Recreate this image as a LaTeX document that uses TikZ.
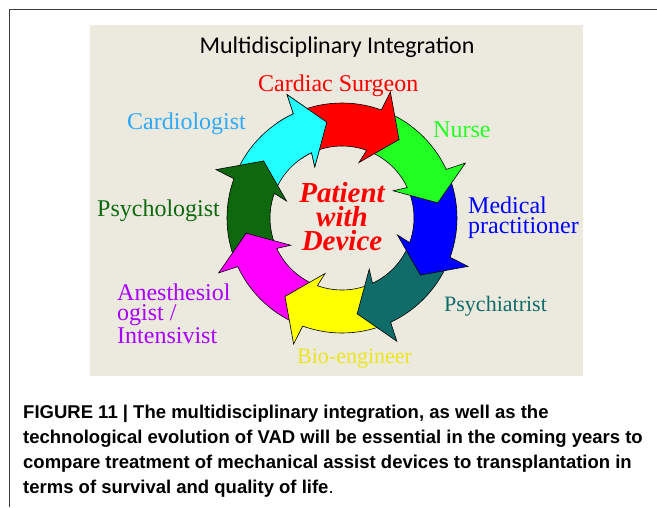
\documentclass[tikz,border=0pt]{standalone}
\usepackage{fontspec}
\setmainfont{Liberation Serif}
\newfontfamily\titlefont{Carlito}
\newfontfamily\capfont{Liberation Sans}
\usetikzlibrary{positioning}

\definecolor{paper}{RGB}{236,233,223}
\definecolor{framegray}{RGB}{60,60,60}
\definecolor{ringred}{RGB}{255,0,0}
\definecolor{ringgreen}{RGB}{34,255,34}
\definecolor{ringblue}{RGB}{0,0,255}
\definecolor{ringteal}{RGB}{16,108,104}
\definecolor{ringyellow}{RGB}{255,255,0}
\definecolor{ringmagenta}{RGB}{255,0,255}
\definecolor{ringdkgreen}{RGB}{14,105,14}
\definecolor{ringcyan}{RGB}{34,255,255}
\definecolor{txtcyan}{RGB}{45,170,250}
\definecolor{txtyellow}{RGB}{235,230,30}
\definecolor{txtpurple}{RGB}{170,0,255}

\tikzset{
  ringarrow/.style={fill=#1, draw=black, line width=0.6pt, line join=miter},
  role/.style={font=\fontsize{24}{20}\selectfont, inner sep=0pt, text=#1},
}

% one ring segment: #1 = angle of the barbs, #2 = fill colour
\newcommand{\ringseg}[2]{%
\path[ringarrow=#2] ({#1+45}:\Ro) arc[start angle=#1+45, end angle=#1, radius=\Ro]
  -- ({#1-1}:135) -- ({#1-16}:97) -- ({#1+3}:58) -- (#1:\Ri)
  arc[start angle=#1, end angle=#1+45, radius=\Ri] -- ({#1+29}:97) -- cycle;}
\def\Ro{115}
\def\Ri{72}

\begin{document}
\begin{tikzpicture}[x=1pt,y=-1pt]
\useasboundingbox (0,0) rectangle (657,507);
\fill[white] (0,0) rectangle (657,507);
\draw[framegray, line width=1.5pt] (9.5,507) -- (9.5,9.5) -- (657,9.5);
\fill[paper] (90,25) rectangle (583,376);

\node[font=\titlefont\fontsize{24}{24}\selectfont, anchor=base] (title) at (337,53) {Multidisciplinary Integration};

% the ring, drawn backwards so that each head lies on the next tail
\begin{scope}[shift={(342,218)}, yscale=-1]
\ringseg{115}{ringcyan}
\ringseg{160}{ringdkgreen}
\ringseg{205}{ringmagenta}
\ringseg{250}{ringyellow}
\ringseg{295}{ringteal}
\ringseg{340}{ringblue}
\ringseg{25}{ringgreen}
\ringseg{70}{ringred}
\begin{scope}
\clip (0,0) -- (88:160) arc[start angle=88, end angle=125, radius=160] -- cycle;
\ringseg{115}{ringcyan}
\end{scope}
\end{scope}

\node[font=\bfseries\itshape\fontsize{29}{24}\selectfont, text=ringred, align=center, inner sep=0pt] (patient) at (342,217) {Patient\\with\\Device};

\node[role=ringred, anchor=base west] (surgeon) at (258,91) {Cardiac Surgeon};
\node[role=txtcyan, anchor=base west] (cardio) at (127,129) {Cardiologist};
\node[role=ringgreen, anchor=base west] (nurse) at (433,137) {Nurse};
\node[role=ringblue, anchor=base west, align=left] (medical) at (468,233) {Medical\\practitioner};
\node[role=ringteal, anchor=base west, font=\fontsize{22}{20}\selectfont] (psychiatrist) at (444,311) {Psychiatrist};
\node[role=txtyellow, anchor=base west, font=\fontsize{22}{20}\selectfont] (bio) at (297,363) {Bio-engineer};
\node[role=txtpurple, anchor=base west, align=left] (anesth) at (117,343) {Anesthesiol\\ogist /\\Intensivist};
\node[role=ringdkgreen, anchor=base west] (psychologist) at (97,216) {Psychologist};

\node[font=\capfont\bfseries\fontsize{18.5}{25}\selectfont, anchor=base west, align=left, inner sep=0pt] (caption) at (23,493)
  {FIGURE 11 | The multidisciplinary integration, as well as the\\
   technological evolution of VAD will be essential in the coming years to\\
   compare treatment of mechanical assist devices to transplantation in\\
   terms of survival and quality of life{\mdseries .}};
\end{tikzpicture}
\end{document}
